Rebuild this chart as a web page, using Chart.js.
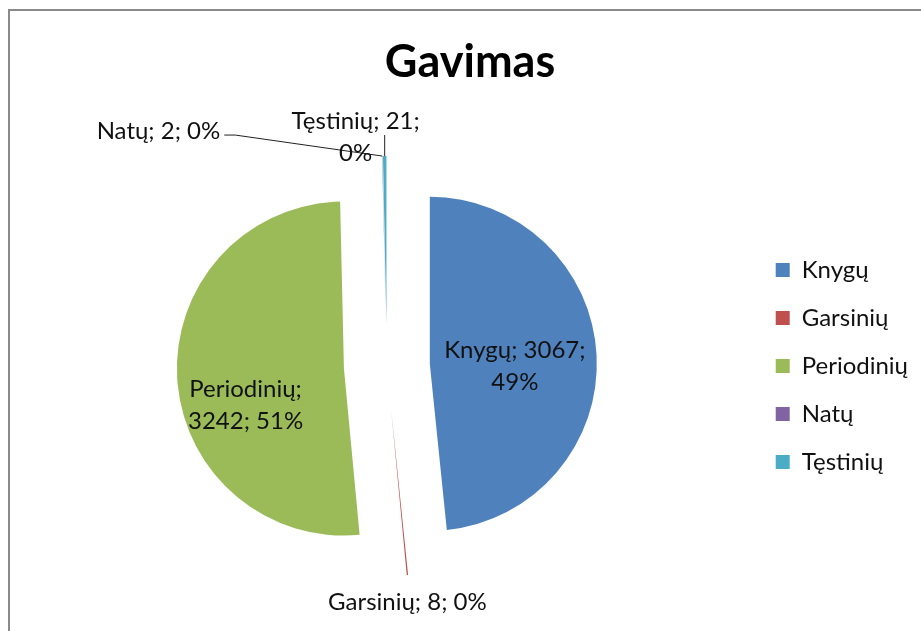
<!DOCTYPE html>
<html>
<head>
<meta charset="utf-8">
<script src="https://cdn.jsdelivr.net/npm/chart.js@4.4.0/dist/chart.umd.min.js"></script>
<style>
    html, body { margin:0; padding:0; background:#fff; }
    #wrap  { position:relative; width:921px; height:631px; overflow:hidden; }
    #frame { position:absolute; left:8px; top:9px; width:1000px; height:700px;
             border-left:2px solid #8a8a8a; border-top:2px solid #8a8a8a; }
    #chart { position:absolute; left:0; top:0; }
</style>
</head>
<body>
<div id="wrap">
    <div id="frame"></div>
    <canvas id="chart" width="921" height="631"></canvas>
</div>
<script>
// ── Data ──────────────────────────────────────────────────────────────
const chartTitle = 'Gavimas';
const categories = ['Knygų', 'Garsinių', 'Periodinių', 'Natų', 'Tęstinių'];
const values     = [3067, 8, 3242, 2, 21];
const percents   = [49, 0, 51, 0, 0];   // as printed on the chart
const colors     = ['#4F81BD', '#C0504D', '#9BBB59', '#8064A2', '#4BACC6'];

// ── Label placement (per slice) ───────────────────────────────────────
// inside: point at frac*radius along the slice middle, then dx/dy
// tip:    point at the slice's outer tip, then dx/dy (+ optional leader)
const labelLayout = [
    { mode:'inside', frac:0.51, dx:0,    dy:7,   breakAt:2 },
    { mode:'tip',    dx:0,    dy:27,  breakAt:0 },
    { mode:'inside', frac:0.59, dx:0,    dy:31,  breakAt:1 },
    { mode:'tip',    dx:-162, dy:-25, breakAt:0, align:'right', leader:[[-147,-21],[-158,-21]] },
    { mode:'tip',    dx:-29,  dy:-19, breakAt:2, leader:[[0,-21]] },
];

const FONT      = 'Lato, "Open Sans", sans-serif';
const EXPLODE   = 43;
const LINE_H    = 32;

// draws every arc pushed out along its middle angle
const explodePlugin = {
    id: 'explode',
    beforeDatasetDraw(chart, args) {
        const ctx = chart.ctx;
        args.meta.data.forEach(arc => {
            const mid = (arc.startAngle + arc.endAngle) / 2;
            ctx.save();
            ctx.translate(Math.cos(mid) * EXPLODE, Math.sin(mid) * EXPLODE);
            arc.draw(ctx, chart.chartArea);
            ctx.restore();
        });
        return false;
    }
};

const labelPlugin = {
    id: 'sliceLabels',
    afterDatasetsDraw(chart) {
        const ctx  = chart.ctx;
        const meta = chart.getDatasetMeta(0);
        ctx.save();
        ctx.font = `24px ${FONT}`;
        ctx.fillStyle = '#111';
        ctx.strokeStyle = '#222';
        ctx.lineWidth = 1;
        ctx.textBaseline = 'middle';

        meta.data.forEach((arc, i) => {
            const L   = labelLayout[i];
            const mid = (arc.startAngle + arc.endAngle) / 2;
            const r   = arc.outerRadius;
            const cx  = arc.x + Math.cos(mid) * EXPLODE;
            const cy  = arc.y + Math.sin(mid) * EXPLODE;
            const k   = L.mode === 'inside' ? L.frac : 1;
            const px  = cx + Math.cos(mid) * r * k;
            const py  = cy + Math.sin(mid) * r * k;

            if (L.leader) {
                ctx.beginPath();
                ctx.moveTo(px, py);
                L.leader.forEach(p => ctx.lineTo(px + p[0], py + p[1]));
                ctx.stroke();
            }

            const parts = [categories[i], values[i], percents[i] + '%'];
            const lines = L.breakAt
                ? [parts.slice(0, L.breakAt).join('; ') + ';', parts.slice(L.breakAt).join('; ')]
                : [parts.join('; ')];

            ctx.textAlign = L.align || 'center';
            const y0 = py + L.dy - (lines.length - 1) * LINE_H / 2;
            lines.forEach((t, j) => ctx.fillText(t, px + L.dx, y0 + j * LINE_H));
        });
        ctx.restore();
    }
};

new Chart(document.getElementById('chart'), {
    type: 'pie',
    data: {
        labels: categories,
        datasets: [{
            data: values,
            backgroundColor: colors,
            borderWidth: 0,
            radius: 167,
        }]
    },
    options: {
        responsive: false,
        animation: false,
        layout: { padding: { left:22, right:3, top:0, bottom:0 } },
        plugins: {
            title: {
                display: true,
                text: chartTitle,
                color: '#000',
                font: { family: FONT, size: 45, weight: 'bold' },
                padding: { top: 35, bottom: 12 }
            },
            legend: {
                position: 'right',
                fullSize: false,
                labels: {
                    color: '#111',
                    font: { family: FONT, size: 24 },
                    boxWidth: 14,
                    boxHeight: 14,
                    padding: 24
                }
            },
            tooltip: { enabled: false }
        }
    },
    plugins: [explodePlugin, labelPlugin]
});
</script>
</body>
</html>
